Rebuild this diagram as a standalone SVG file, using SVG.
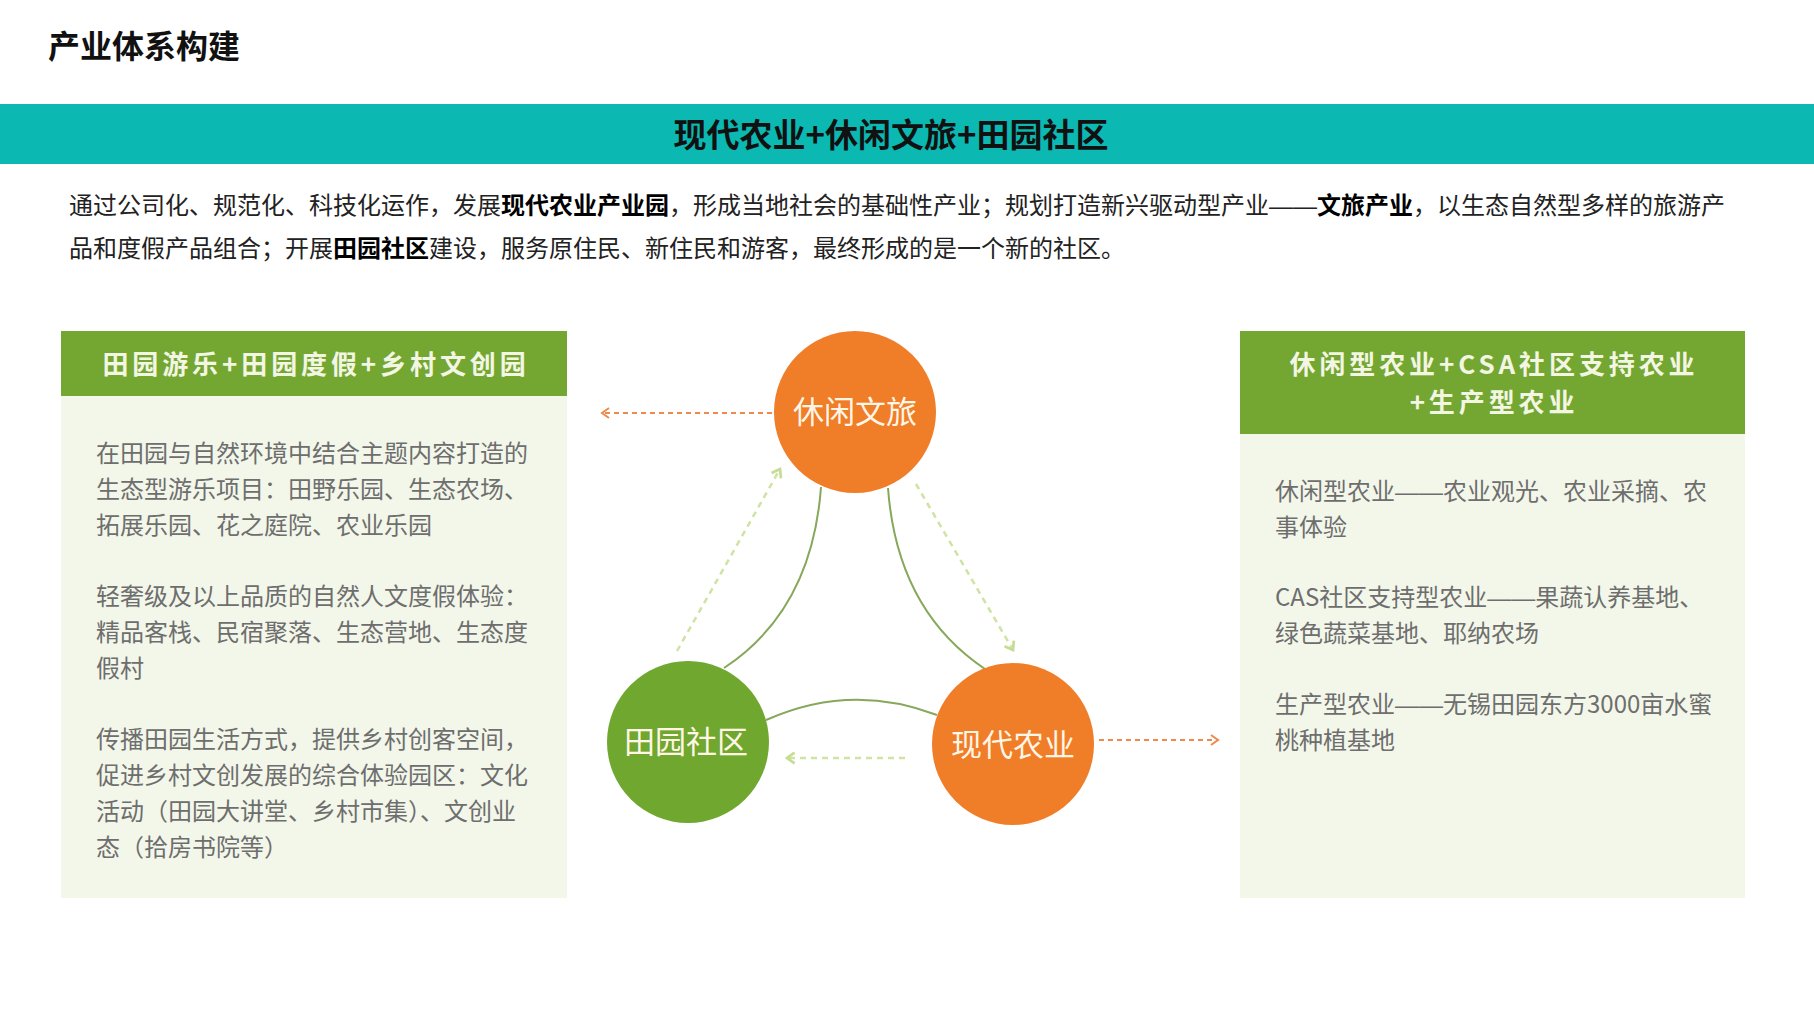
<svg xmlns="http://www.w3.org/2000/svg" width="1814" height="1020" viewBox="0 0 1814 1020">
<defs>
<style>
.t{font-family:"Noto Sans CJK SC","Noto Sans",sans-serif}
.title{font-size:32px;font-weight:700;fill:#111}
.band{font-size:33px;font-weight:700;fill:#111}
.para{font-size:24px;fill:#222}
.para .b{font-weight:700;fill:#000}
.hd{font-size:26px;font-weight:700;fill:#F2F6E2;letter-spacing:3.9px}
.body{font-size:24px;fill:#6E6E6E}
.dash{font-family:"Liberation Sans",sans-serif}
.circ{font-size:31px;fill:#FFF6E6}
.solid{fill:none;stroke:#86A85A;stroke-width:2}
.dor{fill:none;stroke:#EE8A4E;stroke-width:2;stroke-dasharray:5 4}
.dgr{fill:none;stroke:#CFE3A3;stroke-width:2.5;stroke-dasharray:6 5}
</style>
<marker id="ao" viewBox="0 0 12 12" refX="10" refY="6" markerWidth="12" markerHeight="12" markerUnits="userSpaceOnUse" orient="auto"><polyline points="3,1 10,6 3,11" fill="none" stroke="#EE8A4E" stroke-width="2"/></marker>
<marker id="ag" viewBox="0 0 12 12" refX="10" refY="6" markerWidth="13" markerHeight="13" markerUnits="userSpaceOnUse" orient="auto"><polyline points="3,1 10,6 3,11" fill="none" stroke="#C5DD92" stroke-width="2.5"/></marker>
</defs>
<rect width="1814" height="1020" fill="#FFFFFF"/>
<g id="header">
<text class="t title" x="48" y="58">产业体系构建</text>
<rect x="0" y="104" width="1814" height="60" fill="#0BB8B2"/>
<text class="t band" x="891" y="147" text-anchor="middle">现代农业+休闲文旅+田园社区</text>
</g>
<g id="intro">
<text class="t para" x="69" y="214">通过公司化、规范化、科技化运作，发展<tspan class="b">现代农业产业园</tspan>，形成当地社会的基础性产业；规划打造新兴驱动型产业<tspan class="dash">——</tspan><tspan class="b">文旅产业</tspan>，以生态自然型多样的旅游产</text>
<text class="t para" x="69" y="257">品和度假产品组合；开展<tspan class="b">田园社区</tspan>建设，服务原住民、新住民和游客，最终形成的是一个新的社区。</text>
</g>
<g id="panel-left">
<rect x="61" y="331" width="506" height="567" fill="#F3F7EA"/>
<rect x="61" y="331" width="506" height="65" fill="#74A632"/>
<text class="t hd" x="316" y="374" text-anchor="middle">田园游乐+田园度假+乡村文创园</text>
<text class="t body" x="96" y="462">在田园与自然环境中结合主题内容打造的</text>
<text class="t body" x="96" y="498">生态型游乐项目：田野乐园、生态农场、</text>
<text class="t body" x="96" y="534">拓展乐园、花之庭院、农业乐园</text>
<text class="t body" x="96" y="605">轻奢级及以上品质的自然人文度假体验：</text>
<text class="t body" x="96" y="641">精品客栈、民宿聚落、生态营地、生态度</text>
<text class="t body" x="96" y="677">假村</text>
<text class="t body" x="96" y="748">传播田园生活方式，提供乡村创客空间，</text>
<text class="t body" x="96" y="784">促进乡村文创发展的综合体验园区：文化</text>
<text class="t body" x="96" y="820">活动（田园大讲堂、乡村市集）、文创业</text>
<text class="t body" x="96" y="856">态（拾房书院等）</text>
</g>
<g id="panel-right">
<rect x="1240" y="331" width="505" height="567" fill="#F3F7EA"/>
<rect x="1240" y="331" width="505" height="103" fill="#74A632"/>
<text class="t hd" x="1494" y="374" text-anchor="middle">休闲型农业+CSA社区支持农业</text>
<text class="t hd" x="1494" y="412" text-anchor="middle">+生产型农业</text>
<text class="t body" x="1275" y="500">休闲型农业<tspan class="dash">——</tspan>农业观光、农业采摘、农</text>
<text class="t body" x="1275" y="536">事体验</text>
<text class="t body" x="1275" y="606">CAS社区支持型农业<tspan class="dash">——</tspan>果蔬认养基地、</text>
<text class="t body" x="1275" y="642">绿色蔬菜基地、耶纳农场</text>
<text class="t body" x="1275" y="713">生产型农业<tspan class="dash">——</tspan>无锡田园东方3000亩水蜜</text>
<text class="t body" x="1275" y="749">桃种植基地</text>
</g>
<g id="connectors">
<path class="solid" d="M821,487 Q812,610 724,668"/>
<path class="solid" d="M888,488 Q897,610 985,669"/>
<path class="solid" d="M766,720 Q851,682 937,715"/>
<line class="dor" x1="772" y1="413" x2="602" y2="413" marker-end="url(#ao)"/>
<line class="dor" x1="1099" y1="740" x2="1218" y2="740" marker-end="url(#ao)"/>
<line class="dgr" x1="677" y1="651" x2="780" y2="469" marker-end="url(#ag)"/>
<line class="dgr" x1="916" y1="484" x2="1013" y2="650" marker-end="url(#ag)"/>
<line class="dgr" x1="905" y1="758" x2="787" y2="758" marker-end="url(#ag)"/>
</g>
<g id="node-xiuxian">
<circle cx="855" cy="412" r="81" fill="#F07D28"/>
<text class="t circ" x="855" y="423" text-anchor="middle">休闲文旅</text>
</g>
<g id="node-tianyuan">
<circle cx="688" cy="742" r="81" fill="#70A72F"/>
<text class="t circ" x="686" y="753" text-anchor="middle">田园社区</text>
</g>
<g id="node-xiandai">
<circle cx="1013" cy="744" r="81" fill="#F07D28"/>
<text class="t circ" x="1013" y="756" text-anchor="middle">现代农业</text>
</g>
</svg>
